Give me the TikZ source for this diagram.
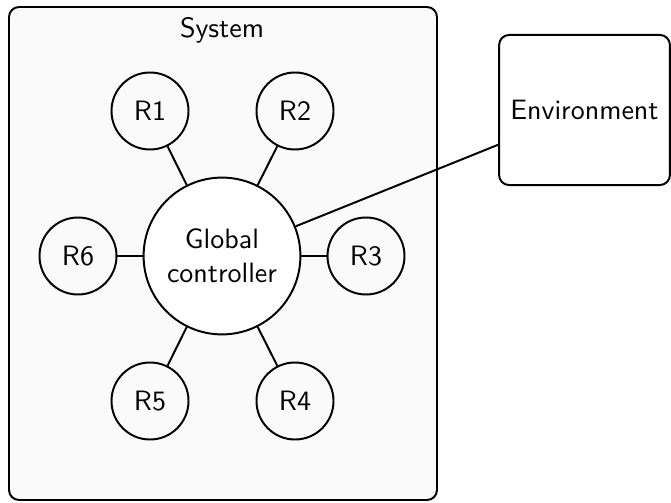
\documentclass[tikz,border=0pt]{standalone}
\usepackage{tikz}
\begin{document}
\begin{tikzpicture}[x=0.3571pt,y=-0.3571pt,
  font=\sffamily,
  line width=0.7pt,
  robot/.style={circle,draw,minimum size=27.5pt,inner sep=0pt},
  ctrl/.style={circle,draw,fill=white,minimum size=56pt,inner sep=0pt,align=center},
  envbox/.style={rectangle,draw,rounded corners=3.6pt,fill=white,minimum width=61pt,minimum height=53.6pt,inner sep=0pt},
  sysbox/.style={draw,rounded corners=3.6pt,fill=black!2},
  link/.style={draw}]
  \useasboundingbox (0,0) rectangle (671,503);
  % system container
  \draw[sysbox] (9,7) rectangle (437,500);
  \node (sys) at (222,30) {System};
  % controller and robots
  \node[ctrl] (gc) at (222,256) {Global\\controller};
  \node[robot] (r1) at (150,111) {R1};
  \node[robot] (r2) at (295,111) {R2};
  \node[robot] (r3) at (366,256) {R3};
  \node[robot] (r4) at (295,401) {R4};
  \node[robot] (r5) at (150,401) {R5};
  \node[robot] (r6) at (78,256) {R6};
  % environment
  \node[envbox] (env) at (584.5,110) {Environment};
  % connections
  \foreach \r in {r1,r2,r3,r4,r5,r6} \draw[link] (gc) -- (\r);
  \draw[link] (gc) -- (env);
\end{tikzpicture}
\end{document}
